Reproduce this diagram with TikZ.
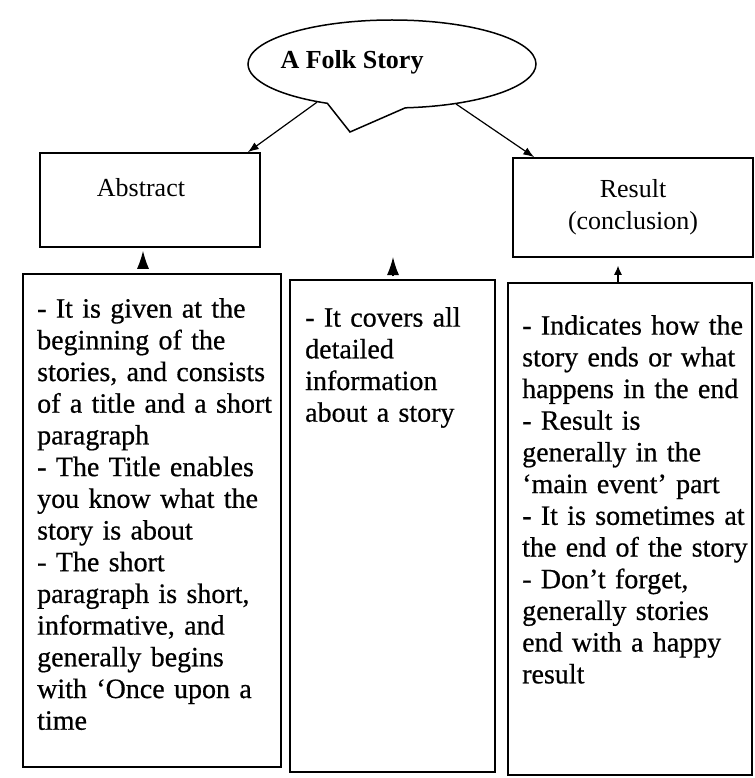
\documentclass[tikz,border=0pt]{standalone}
\usepackage{fontspec}
\setmainfont{Liberation Serif}
\newfontfamily\notesfont[WordSpace=0.6, FakeBold=0.6]{Liberation Serif}
\usetikzlibrary{shapes.callouts, arrows.meta}

\begin{document}
\begin{tikzpicture}[x=1pt, y=-1pt,
    box/.style={draw, rectangle, line width=1.5pt},
    boxlabel/.style={font=\fontsize{26}{32}\selectfont, align=center},
    notes/.style={font=\notesfont\fontsize{28}{31.7}\selectfont, align=left, anchor=north west, inner sep=0pt},
    link/.style={->, >={Latex[length=11pt, width=8pt]}, line width=1.2pt},
    uptip/.style={-{Latex[length=18pt, width=12pt]}, line width=1.2pt},
    smalltip/.style={-{Latex[length=9pt, width=8pt]}, line width=1.2pt}]
    \useasboundingbox[fill=white] (0,0) rectangle (754,778);
    \node[ellipse callout, draw, line width=1.5pt, minimum width=288pt, minimum height=88pt,
        callout absolute pointer={(350,132)}, callout pointer arc=32] (story) at (392,64) {};
    \node[font=\fontsize{26}{30}\selectfont\bfseries] (title) at (352,62) {A Folk Story};
    \node[box, minimum width=220pt, minimum height=94pt] (abstract) at (150,200) {};
    \node[boxlabel] (abstractlabel) at (141,188) {Abstract};
    \node[box, boxlabel, minimum width=240pt, minimum height=99pt] (result) at (633,207.5) {Result\\(conclusion)};
    \draw[link] (story.207) -- ([xshift=-13pt]abstract.north east);
    \draw[link] (story.-32) -- ([xshift=22pt]result.north west);
    \node[box, minimum width=258pt, minimum height=493pt] (detailA) at (152,520.5) {};
    \node[box, minimum width=205pt, minimum height=492pt] (detailB) at (392.5,526) {};
    \node[box, minimum width=244pt, minimum height=492pt] (detailC) at (630,529) {};
    \node[notes, text width=250pt] (notesA) at (37,298) {- It is given at the\\
        beginning of the\\
        stories, and consists\\
        of a title and a short\\
        paragraph\\
        - The Title enables\\
        you know what the\\
        story is about\\
        - The short\\
        paragraph is short,\\
        informative, and\\
        generally begins\\
        with ‘Once upon a\\
        time};
    \node[notes, text width=190pt] (notesB) at (305,307) {- It covers all\\
        detailed\\
        information\\
        about a story};
    \node[notes, text width=235pt] (notesC) at (522,315) {- Indicates how the\\
        story ends or what\\
        happens in the end\\
        - Result is\\
        generally in the\\
        ‘main event’ part\\
        - It is sometimes at\\
        the end of the story\\
        - Don’t forget,\\
        generally stories\\
        end with a happy\\
        result};
    \coordinate (abtip) at ([xshift=-7pt, yshift=-3pt]abstract.south);
    \coordinate (midtip) at (393,257);
    \coordinate (restip) at ([xshift=-15pt, yshift=-8pt]result.south);
    \draw[uptip, shorten <=5pt] (abtip |- detailA.north) -- (abtip);
    \draw[uptip, shorten <=3pt] (midtip |- detailB.north) -- (midtip);
    \draw[smalltip] (restip |- detailC.north) -- (restip);
\end{tikzpicture}
\end{document}
